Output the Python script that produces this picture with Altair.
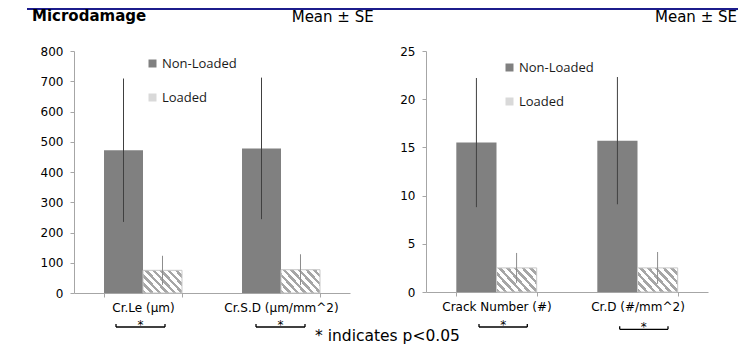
import altair as alt
import pandas as pd

# ---------------- data ----------------
series = ["Non-Loaded", "Loaded"]

left_categories = ["Cr.Le (μm)", "Cr.S.D (μm/mm^2)"]
left_nonloaded = [472, 478]
left_nonloaded_se = [237, 234]
left_loaded = [75, 77]
left_loaded_se = [48, 51]
left_ticks = [0, 100, 200, 300, 400, 500, 600, 700, 800]

right_categories = ["Crack Number (#)", "Cr.D (#/mm^2)"]
right_nonloaded = [15.5, 15.7]
right_nonloaded_se = [6.7, 6.6]
right_loaded = [2.5, 2.5]
right_loaded_se = [1.55, 1.65]
right_ticks = [0, 5, 10, 15, 20, 25]

# ---------------- style ----------------
FONT = "DejaVu Sans"
AXIS_GRAY = "#a6a6a6"
BAR_GRAY = "#808080"
HATCH_GRAY = "#a6a6a6"

def stripes(n=8, frac=0.45):
    stops = []
    for k in range(n):
        a = k / n
        b = (k + frac) / n
        c = (k + 1) / n
        stops += [
            {"offset": a, "color": HATCH_GRAY},
            {"offset": b, "color": HATCH_GRAY},
            {"offset": b, "color": "#ffffff"},
            {"offset": c, "color": "#ffffff"},
        ]
    return alt.LinearGradient(gradient="linear", x1=0, y1=1, x2=1.19, y2=0.345, stops=stops)


def make_df(cats, nl, nl_se, ld, ld_se):
    rows = []
    for i, c in enumerate(cats):
        rows.append({"category": c, "series": "Non-Loaded", "mean": nl[i],
                     "lo": nl[i] - nl_se[i], "hi": nl[i] + nl_se[i]})
        rows.append({"category": c, "series": "Loaded", "mean": ld[i],
                     "lo": ld[i] - ld_se[i], "hi": ld[i] + ld_se[i]})
    return pd.DataFrame(rows)


def panel(cats, nl, nl_se, ld, ld_se, ymax, ticks, pad_inner, lx, ly):
    df = make_df(cats, nl, nl_se, ld, ld_se)
    x = alt.X("category:N", sort=cats, title=None,
              scale=alt.Scale(paddingInner=pad_inner, paddingOuter=pad_inner / 2),
              axis=alt.Axis(labelAngle=0, tickBand="extent", domainColor=AXIS_GRAY,
                            tickColor=AXIS_GRAY, tickSize=4, labelPadding=5,
                            labelFont=FONT, labelFontSize=12, labelColor="#000000"))
    xo = alt.XOffset("series:N", sort=series,
                     scale=alt.Scale(domain=series, paddingInner=0, paddingOuter=0))
    yscale = alt.Scale(domain=[0, ymax], nice=False, zero=True)
    yaxis = alt.Axis(values=ticks, tickCount=len(ticks), grid=False, domainColor=AXIS_GRAY,
                     tickColor=AXIS_GRAY, tickSize=4, labelPadding=7,
                     labelOverlap=False, title=None,
                     labelFont=FONT, labelFontSize=12, labelColor="#000000")

    def Y(f):
        return alt.Y(f, title=None, scale=yscale, axis=yaxis)

    base = alt.Chart(df)
    bars = base.mark_bar(strokeWidth=0).encode(
        x=x, xOffset=xo, y=Y("mean:Q"),
        color=alt.Color("series:N", sort=series,
                        scale=alt.Scale(domain=series, range=[BAR_GRAY, "#d9d9d9"]),
                        legend=alt.Legend(orient="none", legendX=lx, legendY=ly, title=None,
                                          symbolType="square", symbolSize=64,
                                          symbolStrokeWidth=0, labelFont="Open Sans",
                                          labelFontSize=13, labelColor="#1a1a1a",
                                          rowPadding=20, labelOffset=3, padding=0)))
    hatch = base.transform_filter(alt.datum.series == "Loaded").mark_bar(
        fill=stripes(), stroke="#c8c8c8", strokeWidth=1).encode(
        x=x, xOffset=xo, y=Y("mean:Q"))
    err_nl = base.transform_filter(alt.datum.series == "Non-Loaded").mark_rule(
        color="#404040", strokeWidth=1).encode(x=x, xOffset=xo, y=Y("lo:Q"), y2="hi:Q")
    err_ld = base.transform_filter(alt.datum.series == "Loaded").mark_rule(
        color="#8c8c8c", strokeWidth=1).encode(x=x, xOffset=xo, y=Y("lo:Q"), y2="hi:Q")
    return [bars, hatch, err_nl, err_ld]


# annotation geometry (pixels, relative to the left plot's origin)
brackets = pd.DataFrame({
    "x1": [42, 182, 405, 545.7],
    "x2": [91, 231, 453.3, 594],
    "y": [276, 276, 276, 278.3],
})
brackets["y0"] = brackets["y"] - 3
brackets["xc"] = (brackets["x1"] + brackets["x2"]) / 2
brackets["ys"] = brackets["y"] + 1.5
brackets["star"] = "*"

bk = alt.Chart(brackets)
br_h = bk.mark_rule(color="#000000", strokeWidth=1.3).encode(
    x=alt.X("x1:Q", scale=None), x2="x2:Q", y=alt.Y("y:Q", scale=None))
br_l = bk.mark_rule(color="#000000", strokeWidth=1.3).encode(
    x=alt.X("x1:Q", scale=None), y=alt.Y("y0:Q", scale=None), y2="y:Q")
br_r = bk.mark_rule(color="#000000", strokeWidth=1.3).encode(
    x=alt.X("x2:Q", scale=None), y=alt.Y("y0:Q", scale=None), y2="y:Q")
br_s = bk.mark_text(font=FONT, fontSize=12, color="#000000", baseline="alphabetic").encode(
    x=alt.X("xc:Q", scale=None), y=alt.Y("ys:Q", scale=None), text="star:N")

one = pd.DataFrame({"k": [0]})
def label(txt, x, y, size, weight="normal", align="left"):
    return alt.Chart(one).mark_text(font=FONT, fontSize=size, fontWeight=weight, align=align,
                                    baseline="alphabetic", color="#000000").encode(
        x=alt.value(x), y=alt.value(y), text=alt.value(txt))

top_line = alt.Chart(one).mark_rule(color="#1c1c8c", strokeWidth=2).encode(
    x=alt.value(-47), x2=alt.value(664), y=alt.value(-42))

annots = [
    top_line,
    label("Microdamage", -42, -30, 15, "bold"),
    label("Mean ± SE", 217.7, -29, 15),
    label("Mean ± SE", 581, -29, 15),
    label("* indicates p<0.05", 241, 290, 15.5),
    br_h, br_l, br_r, br_s,
]

left_layers = panel(left_categories, left_nonloaded, left_nonloaded_se, left_loaded,
                    left_loaded_se, 800, left_ticks, 0.435, 72, 6)
right_layers = panel(right_categories, right_nonloaded, right_nonloaded_se, right_loaded,
                     right_loaded_se, 25, right_ticks, 0.43, 77, 10)

left = alt.layer(*left_layers, *annots).properties(width=276, height=242)
right = alt.layer(*right_layers).properties(width=282, height=241)

chart = alt.hconcat(left, right, spacing=76, bounds="flush").resolve_scale(
    color="independent", x="independent", y="independent", xOffset="independent"
).resolve_legend(color="independent").properties(
    padding={"left": 18, "top": 0, "right": 0, "bottom": 0}
).configure_view(stroke=None).configure_axis(labelFont=FONT)

chart.save("out.html", embed_options={"renderer": "svg", "actions": False})
